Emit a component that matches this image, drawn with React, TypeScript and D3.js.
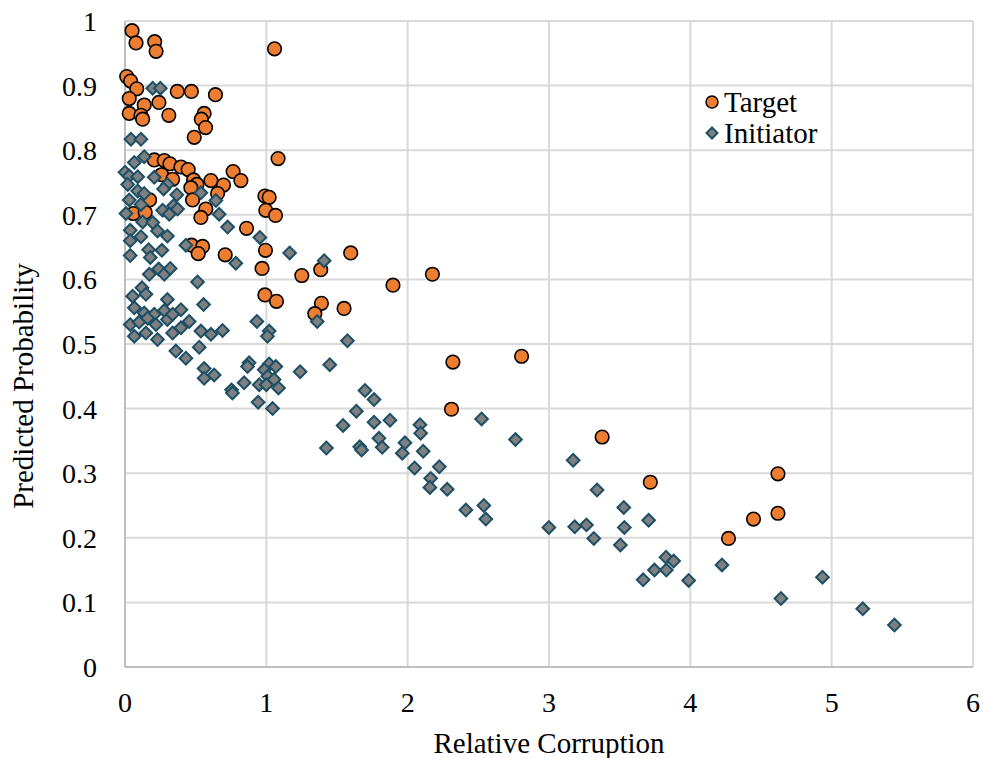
import React from "react";
import * as d3 from "d3";

// Target points: [relative corruption, predicted probability]
const targetX = [
  0.05, 0.078, 0.21, 0.22, 1.058, 0.012, 0.04, 0.083, 0.03, 0.37, 0.47, 0.64,
  0.136, 0.24, 0.03, 0.113, 0.125, 0.31, 0.56, 0.54, 0.57, 0.49, 1.083,
  0.207, 0.278, 0.318, 0.396, 0.447, 0.765, 0.82, 0.259, 0.337, 0.608, 0.697,
  0.485, 0.509, 0.466, 0.655, 0.174, 0.478, 0.572, 0.537, 0.99, 1.02, 0.996,
  1.065, 0.059, 0.143, 0.86, 0.471, 0.549, 0.518, 0.709, 0.994, 0.97, 1.251,
  1.385, 1.597, 1.896, 2.175, 0.99, 1.072, 1.39, 1.55, 1.343, 2.32, 2.31,
  2.806, 3.376, 3.717, 4.27, 4.447, 4.62, 4.62,
];
const targetY = [
  0.985, 0.966, 0.968, 0.953, 0.957, 0.914, 0.907, 0.895, 0.88, 0.891, 0.891, 0.886,
  0.87, 0.874, 0.857, 0.854, 0.848, 0.854, 0.857, 0.848, 0.835, 0.82, 0.787,
  0.785, 0.784, 0.779, 0.774, 0.77, 0.767, 0.753, 0.762, 0.755, 0.753, 0.746,
  0.754, 0.747, 0.742, 0.733, 0.723, 0.723, 0.709, 0.696, 0.729, 0.727, 0.707,
  0.699, 0.702, 0.704, 0.679, 0.653, 0.651, 0.64, 0.638, 0.645, 0.617, 0.606,
  0.615, 0.641, 0.591, 0.608, 0.576, 0.566, 0.563, 0.555, 0.547, 0.472, 0.399,
  0.481, 0.356, 0.286, 0.199, 0.229, 0.238, 0.299,
];

// Initiator points: [relative corruption, predicted probability]
const initiatorX = [
  0.196, 0.25, 0.042, 0.113, 0.136, 0.066, 0.0, 0.03, 0.09, 0.019, 0.207, 0.3,
  0.273, 0.09, 0.136, 0.367, 0.537, 0.643, 0.03, 0.113, 0.344, 0.266, 0.313,
  0.372, 0.007, 0.666, 0.125, 0.196, 0.726, 0.037, 0.23, 0.113, 0.037, 0.3,
  0.954, 0.431, 0.167, 0.261, 0.037, 0.179, 1.165, 0.784, 0.172, 0.238, 0.278,
  0.32, 0.513, 0.12, 0.148, 0.054, 0.3, 0.556, 0.066, 0.136, 0.207, 0.278,
  0.396, 0.037, 0.1, 0.16, 0.219, 0.3, 0.337, 0.454, 0.933, 1.02, 0.066, 0.148,
  0.23, 0.337, 0.396, 0.537, 0.608, 0.69, 0.36, 0.525, 1.008, 0.431, 0.56,
  0.56, 0.631, 0.754, 0.76, 0.843, 0.878, 0.867, 0.95, 1.02, 1.067, 0.985,
  1.01, 1.055, 1.086, 1.0, 1.239, 0.942, 1.044, 1.409, 1.36, 1.574, 1.449,
  1.698, 1.762, 1.637, 1.543, 1.762, 1.875, 1.797, 1.82, 1.661, 1.674, 1.425,
  2.087, 2.092, 1.981, 1.962, 2.11, 2.049, 2.224, 2.163, 2.157, 2.28, 2.523,
  2.763, 2.412, 2.539, 2.553, 3.171, 3.34, 3.529, 2.999, 3.182, 3.265, 3.533,
  3.317, 3.505, 3.705, 3.828, 3.882, 3.746, 3.83, 3.666, 3.988, 4.224, 4.641,
  4.935, 5.22, 5.444,
];
const initiatorY = [
  0.896, 0.896, 0.817, 0.817, 0.79, 0.781, 0.766, 0.76, 0.759, 0.747, 0.758, 0.747,
  0.74, 0.737, 0.733, 0.731, 0.734, 0.722, 0.723, 0.716, 0.714, 0.707, 0.701,
  0.709, 0.702, 0.701, 0.689, 0.688, 0.681, 0.676, 0.675, 0.666, 0.66, 0.667,
  0.665, 0.653, 0.646, 0.645, 0.637, 0.634, 0.641, 0.625, 0.608, 0.616, 0.608,
  0.617, 0.596, 0.587, 0.577, 0.574, 0.569, 0.561, 0.556, 0.548, 0.546, 0.552,
  0.553, 0.53, 0.534, 0.54, 0.53, 0.538, 0.546, 0.535, 0.535, 0.52, 0.512, 0.517,
  0.507, 0.517, 0.525, 0.52, 0.515, 0.521, 0.489, 0.495, 0.512, 0.478, 0.462,
  0.447, 0.452, 0.429, 0.424, 0.44, 0.471, 0.465, 0.437, 0.469, 0.465, 0.46,
  0.45, 0.445, 0.432, 0.437, 0.457, 0.41, 0.4, 0.629, 0.535, 0.505, 0.468,
  0.428, 0.414, 0.396, 0.374, 0.379, 0.382, 0.354, 0.34, 0.341, 0.336, 0.339,
  0.375, 0.362, 0.347, 0.331, 0.334, 0.308, 0.31, 0.292, 0.278, 0.275, 0.384,
  0.352, 0.243, 0.25, 0.229, 0.32, 0.274, 0.247, 0.216, 0.217, 0.22, 0.216,
  0.199, 0.189, 0.227, 0.17, 0.164, 0.15, 0.15, 0.135, 0.134, 0.158, 0.106,
  0.139, 0.09, 0.065,
];

const xTicks = [0, 1, 2, 3, 4, 5, 6];
const yTicks = [0, 0.1, 0.2, 0.3, 0.4, 0.5, 0.6, 0.7, 0.8, 0.9, 1];
const seriesNames = ["Target", "Initiator"];

const W = 983;
const H = 758;
const FONT = "'Liberation Serif', 'Times New Roman', serif";
const ORANGE = "#ED7D31";
const GRAY = "#7F7F7F";
const TEAL = "#1B4F66";

export default function App() {
  const x = d3.scaleLinear().domain([0, 6]).range([125, 973]);
  const y = d3.scaleLinear().domain([0, 1]).range([667, 21]);
  const diamond = d3.symbol().type(d3.symbolSquare).size(80)();

  const targets = targetX.map((v, i) => [v, targetY[i]]);
  const initiators = initiatorX.map((v, i) => [v, initiatorY[i]]);

  return (
    <svg width={W} height={H} style={{ position: "absolute", left: 0, top: 0, background: "#fff" }}>
      {/* grid */}
      {yTicks.map((t) => (
        <line key={"gy" + t} x1={x(0)} x2={x(6)} y1={y(t)} y2={y(t)} stroke="#d9d9d9" strokeWidth={2} />
      ))}
      {xTicks.map((t) => (
        <line key={"gx" + t} x1={x(t)} x2={x(t)} y1={y(0)} y2={y(1)} stroke="#d9d9d9" strokeWidth={2} />
      ))}
      {/* axes */}
      <line x1={x(0)} x2={x(0)} y1={y(0)} y2={y(1)} stroke="#bfbfbf" strokeWidth={2} />
      <line x1={x(0)} x2={x(6)} y1={y(0)} y2={y(0)} stroke="#bfbfbf" strokeWidth={2} />

      {/* tick labels */}
      {yTicks.map((t) => (
        <text key={"ty" + t} x={97} y={y(t) + 10} textAnchor="end" fontFamily={FONT} fontSize={28} fill="#000">
          {d3.format("~g")(t)}
        </text>
      ))}
      {xTicks.map((t) => (
        <text key={"tx" + t} x={x(t)} y={712} textAnchor="middle" fontFamily={FONT} fontSize={28} fill="#000">
          {t}
        </text>
      ))}

      {/* axis titles */}
      <text x={549} y={753} textAnchor="middle" fontFamily={FONT} fontSize={29} fill="#000">
        Relative Corruption
      </text>
      <text
        transform={`translate(33,386) rotate(-90)`}
        textAnchor="middle"
        fontFamily={FONT}
        fontSize={29}
        fill="#000"
      >
        Predicted Probability
      </text>

      {/* target series */}
      {targets.map((d, i) => (
        <circle key={"t" + i} cx={x(d[0])} cy={y(d[1])} r={6.8} fill={ORANGE} stroke="#000" strokeWidth={1.6} />
      ))}
      {/* initiator series */}
      {initiators.map((d, i) => (
        <path
          key={"i" + i}
          d={diamond}
          transform={`translate(${x(d[0])},${y(d[1])}) rotate(45)`}
          fill={GRAY}
          stroke={TEAL}
          strokeWidth={2}
        />
      ))}

      {/* legend */}
      <g transform="translate(712,102)">
        <circle cx={0} cy={0} r={6} fill={ORANGE} stroke="#000" strokeWidth={1.5} />
        <text x={12} y={10} fontFamily={FONT} fontSize={29} fill="#000">
          {seriesNames[0]}
        </text>
      </g>
      <g transform="translate(712,133)">
        <path d={d3.symbol().type(d3.symbolSquare).size(60)()} transform="rotate(45)" fill={GRAY} stroke={TEAL} strokeWidth={2} />
        <text x={12} y={10} fontFamily={FONT} fontSize={29} fill="#000">
          {seriesNames[1]}
        </text>
      </g>
    </svg>
  );
}
